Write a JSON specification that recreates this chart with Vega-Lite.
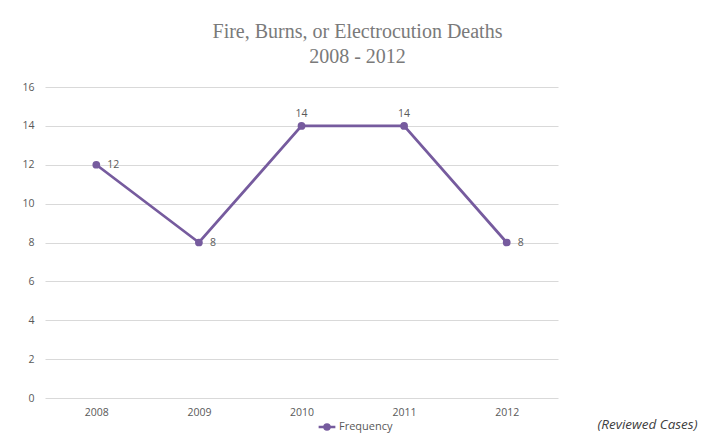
{
  "$schema": "https://vega.github.io/schema/vega-lite/v6.json",
  "width": 513,
  "height": 311,
  "autosize": "none",
  "padding": {"left": 45, "top": 87, "right": 147, "bottom": 45},
  "background": "white",
  "title": {
    "text": ["Fire, Burns, or Electrocution Deaths", "2008 - 2012"],
    "font": "Liberation Serif",
    "fontSize": 20,
    "fontWeight": "normal",
    "color": "#7a7a7a",
    "lineHeight": 25,
    "anchor": "middle",
    "dx": 56,
    "offset": 15
  },
  "data": {
    "values": [
      {"year": "2008", "deaths": 12, "series": "Frequency"},
      {"year": "2009", "deaths": 8, "series": "Frequency"},
      {"year": "2010", "deaths": 14, "series": "Frequency"},
      {"year": "2011", "deaths": 14, "series": "Frequency"},
      {"year": "2012", "deaths": 8, "series": "Frequency"}
    ]
  },
  "encoding": {
    "x": {
      "field": "year",
      "type": "ordinal",
      "scale": {"paddingInner": 0, "paddingOuter": 0.5},
      "axis": {
        "title": "(Reviewed Cases)",
        "titleFont": "Open Sans",
        "titleFontSize": 13.5,
        "titleFontStyle": "italic",
        "titleFontWeight": "normal",
        "titleColor": "#404040",
        "titleAnchor": "end",
        "titleAlign": "right",
        "titleBaseline": "middle",
        "titleX": 652,
        "titleY": 26,
        "labelAngle": 0,
        "labelFont": "Open Sans",
        "labelFontSize": 10.5,
        "labelColor": "#595959",
        "labelPadding": 9,
        "ticks": false,
        "domain": false
      }
    },
    "y": {
      "field": "deaths",
      "type": "quantitative",
      "scale": {"domain": [0, 16]},
      "axis": {
        "title": null,
        "values": [0, 2, 4, 6, 8, 10, 12, 14, 16],
        "labelFont": "Open Sans",
        "labelFontSize": 10.5,
        "labelColor": "#595959",
        "labelPadding": 11,
        "ticks": false,
        "domain": false,
        "gridColor": "#d9d9d9",
        "gridWidth": 1
      }
    }
  },
  "layer": [
    {
      "mark": {"type": "line", "strokeWidth": 2.75, "point": {"filled": true, "size": 60}},
      "encoding": {
        "color": {
          "field": "series",
          "type": "nominal",
          "scale": {"range": ["#765b9e"]},
          "legend": {
            "title": null,
            "orient": "none",
            "legendX": 272,
            "legendY": 330,
            "symbolType": "M-1,0H1M0,-0.3A0.3,0.3 0 1,1 0,0.3A0.3,0.3 0 1,1 0,-0.3Z",
            "symbolSize": 280,
            "symbolStrokeWidth": 2.5,
            "symbolFillColor": "#765b9e",
            "labelFont": "Open Sans",
            "labelFontSize": 11,
            "labelColor": "#595959",
            "labelOffset": 2
          }
        }
      }
    },
    {
      "transform": [{"filter": "datum.deaths < 14"}],
      "mark": {"type": "text", "align": "left", "baseline": "middle", "dx": 11, "font": "Open Sans", "fontSize": 10.5, "color": "#595959"},
      "encoding": {"text": {"field": "deaths", "type": "quantitative"}}
    },
    {
      "transform": [{"filter": "datum.deaths >= 14"}],
      "mark": {"type": "text", "align": "center", "baseline": "middle", "dy": -12, "font": "Open Sans", "fontSize": 10.5, "color": "#595959"},
      "encoding": {"text": {"field": "deaths", "type": "quantitative"}}
    }
  ],
  "config": {"view": {"stroke": null}}
}
